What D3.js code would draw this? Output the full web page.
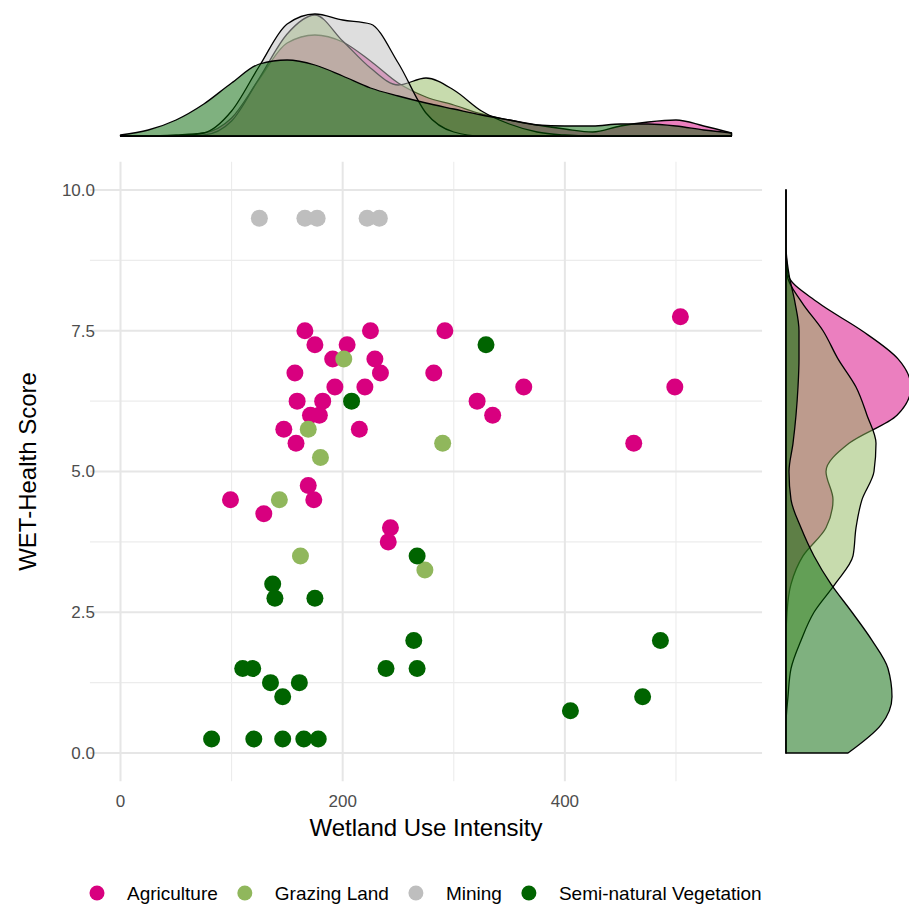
<!DOCTYPE html>
<html>
<head>
<meta charset="utf-8">
<script src="https://cdn.jsdelivr.net/npm/d3@7"></script>
<style>
  body { margin: 0; background: #fff; }
  text { font-family: "Liberation Sans", Arial, sans-serif; }
</style>
</head>
<body>
<div id="chart"></div>
<script>
// categories and colours
const groups = ['Agriculture', 'Grazing Land', 'Mining', 'Semi-natural Vegetation'];
const colors = ['#d8007f', '#90b75c', '#bebebe', '#006400'];

// scatter points (Wetland Use Intensity, WET-Health Score)
const agriX = [166, 175, 204, 191, 157, 193, 159, 182, 171, 179, 147, 158, 169, 174, 99, 129,
               225, 229, 234, 292, 282, 363, 504, 499, 220, 321, 335, 215, 462, 243, 241];
const agriY = [7.5, 7.25, 7.25, 7.0, 6.75, 6.5, 6.25, 6.25, 6.0, 6.0, 5.75, 5.5, 4.75, 4.5, 4.5, 4.25,
               7.5, 7.0, 6.75, 7.5, 6.75, 6.5, 7.75, 6.5, 6.5, 6.25, 6.0, 5.75, 5.5, 4.0, 3.75];
const grazX = [201, 169, 180, 143, 290, 162, 274];
const grazY = [7.0, 5.75, 5.25, 4.5, 5.5, 3.5, 3.25];
const mineX = [125, 166, 177, 222, 233];
const mineY = [9.5, 9.5, 9.5, 9.5, 9.5];
const semiX = [208, 329, 267, 137, 139, 175, 264, 110, 119, 239, 267, 135, 161, 146,
               82, 120, 146, 165, 178, 486, 470, 405];
const semiY = [6.25, 7.25, 3.5, 3.0, 2.75, 2.75, 2.0, 1.5, 1.5, 1.5, 1.5, 1.25, 1.25, 1.0,
               0.25, 0.25, 0.25, 0.25, 0.25, 2.0, 1.0, 0.75];

// marginal densities (relative units)
const topGrid = [0, 25, 50, 75, 100, 125, 150, 175, 200, 225, 250, 275, 300, 325, 350, 375, 400, 425, 450, 475, 500, 525, 550];
const topAgri = [0, 0, 1, 3, 18, 57, 93, 101, 94, 75, 53, 39, 31, 22, 16, 11, 7, 4, 10, 14, 16, 10, 3];
const topGraz = [0, 0, 0, 1, 15, 58, 102, 121, 95, 68, 51, 58, 46, 25, 12, 4, 1, 0, 0, 0, 0, 0, 0];
const topMine = [0, 0, 0, 3, 25, 70, 112, 122, 116, 112, 73, 23, 4, 0, 0, 0, 0, 0, 0, 0, 0, 0, 0];
const topSemi = [1, 6, 16, 32, 53, 72, 76, 71, 60, 48, 40, 33, 27, 21, 16, 11, 10, 10, 12, 12, 10, 6, 3];

const rightGrid = [0, 0.5, 1, 1.5, 2, 2.5, 3, 3.5, 4, 4.5, 5, 5.5, 6, 6.5, 7, 7.5, 8, 8.5, 9, 9.5, 10];
const rightAgri = [0, 0, 0, 0, 0, 1, 5, 17, 40, 47, 40, 63, 111, 125, 112, 76, 32, 2, 0, 0, 0];
const rightGraz = [0, 0, 2, 5, 15, 28, 49, 67, 70, 76, 88, 90, 81, 70, 52, 37, 16, 1, 0, 0, 0];
const rightSemi = [62, 95, 106, 102, 86, 66, 45, 28, 15, 5, 3, 7, 10, 12, 13, 13, 9, 3, 0, 0, 0];

const xTicks = [0, 200, 400];
const xMinor = [100, 300, 500];
const yTicks = [0, 2.5, 5, 7.5, 10];
const yMinor = [1.25, 3.75, 6.25, 8.75];

(function() {
    const W = 909, H = 906;
    const svg = d3.select('#chart').append('svg')
        .attr('width', W).attr('height', H)
        .style('background', '#fff');

    let x = d3.scaleLinear().domain([0, 550]).range([120.5, 731.5]);
    let y = d3.scaleLinear().domain([0, 10]).range([753, 190]);
    let panelL = x(-27.5), panelR = x(577.5), panelT = y(10.5), panelB = y(-0.5);

    let grid = svg.append('g');
    grid.selectAll('.hmin').data(yMinor).enter().append('line')
        .attr('x1', panelL).attr('x2', panelR)
        .attr('y1', d => y(d)).attr('y2', d => y(d))
        .attr('stroke', '#ececec').attr('stroke-width', 1.1);
    grid.selectAll('.vmin').data(xMinor).enter().append('line')
        .attr('y1', panelT).attr('y2', panelB)
        .attr('x1', d => x(d)).attr('x2', d => x(d))
        .attr('stroke', '#ececec').attr('stroke-width', 1.1);
    grid.selectAll('.hmaj').data(yTicks).enter().append('line')
        .attr('x1', panelL).attr('x2', panelR)
        .attr('y1', d => y(d)).attr('y2', d => y(d))
        .attr('stroke', '#e6e6e6').attr('stroke-width', 2);
    grid.selectAll('.vmaj').data(xTicks).enter().append('line')
        .attr('y1', panelT).attr('y2', panelB)
        .attr('x1', d => x(d)).attr('x2', d => x(d))
        .attr('stroke', '#e6e6e6').attr('stroke-width', 2);

    // points
    const series = [[agriX, agriY], [grazX, grazY], [mineX, mineY], [semiX, semiY]];
    series.forEach((s, gi) => {
        let pts = s[0].map((v, i) => ({ x: v, y: s[1][i] }));
        svg.append('g').selectAll('circle').data(pts).enter().append('circle')
            .attr('cx', d => x(d.x)).attr('cy', d => y(d.y))
            .attr('r', 8.5)
            .attr('fill', colors[gi]);
    });

    // tick labels
    svg.append('g').selectAll('text').data(yTicks).enter().append('text')
        .attr('x', 95).attr('y', d => y(d))
        .attr('dy', '0.35em')
        .attr('text-anchor', 'end')
        .attr('font-size', 17).attr('fill', '#4d4d4d')
        .text(d => d3.format('.1f')(d));
    svg.append('g').selectAll('text').data(xTicks).enter().append('text')
        .attr('x', d => x(d)).attr('y', 801)
        .attr('dy', '0.35em')
        .attr('text-anchor', 'middle')
        .attr('font-size', 17).attr('fill', '#4d4d4d')
        .text(d => d);

    // axis titles
    svg.append('text')
        .attr('x', (panelL + panelR) / 2).attr('y', 828)
        .attr('dy', '0.35em').attr('text-anchor', 'middle')
        .attr('font-size', 24).attr('fill', '#000')
        .text('Wetland Use Intensity');
    svg.append('text')
        .attr('transform', 'translate(28,' + ((panelT + panelB) / 2) + ') rotate(-90)')
        .attr('dy', '0.35em').attr('text-anchor', 'middle')
        .attr('font-size', 24).attr('fill', '#000')
        .text('WET-Health Score');

    // top marginal density
    let yTop = d3.scaleLinear().domain([0, 124]).range([136, 12]);
    let topArea = d3.area()
        .x((d, i) => x(topGrid[i]))
        .y0(yTop(0))
        .y1(d => yTop(d))
        .curve(d3.curveMonotoneX);
    [topAgri, topGraz, topMine, topSemi].forEach((vals, gi) => {
        svg.append('path')
            .attr('d', topArea(vals) + 'Z')
            .attr('fill', colors[gi]).attr('fill-opacity', 0.5)
            .attr('stroke', '#000').attr('stroke-width', 1.3)
            .attr('stroke-linejoin', 'round');
    });

    // right marginal density
    let xRight = d3.scaleLinear().domain([0, 124]).range([786, 910]);
    let rightArea = d3.area()
        .y((d, i) => y(rightGrid[i]))
        .x0(xRight(0))
        .x1(d => xRight(d))
        .curve(d3.curveMonotoneY);
    [[rightAgri, 0], [rightGraz, 1], [rightSemi, 3]].forEach(r => {
        svg.append('path')
            .attr('d', rightArea(r[0]) + 'Z')
            .attr('fill', colors[r[1]]).attr('fill-opacity', 0.5)
            .attr('stroke', '#000').attr('stroke-width', 1.3)
            .attr('stroke-linejoin', 'round');
    });

    // legend
    let legend = svg.append('g').attr('transform', 'translate(0,893)');
    let lx = 97;
    groups.forEach((g, gi) => {
        legend.append('circle')
            .attr('cx', lx).attr('cy', 0).attr('r', 7.5)
            .attr('fill', colors[gi]);
        let t = legend.append('text')
            .attr('x', lx + 30).attr('y', 0).attr('dy', '0.35em')
            .attr('font-size', 19).attr('fill', '#000')
            .text(g);
        lx += 30 + t.node().getComputedTextLength() + 27;
    });
})();
</script>
</body>
</html>
